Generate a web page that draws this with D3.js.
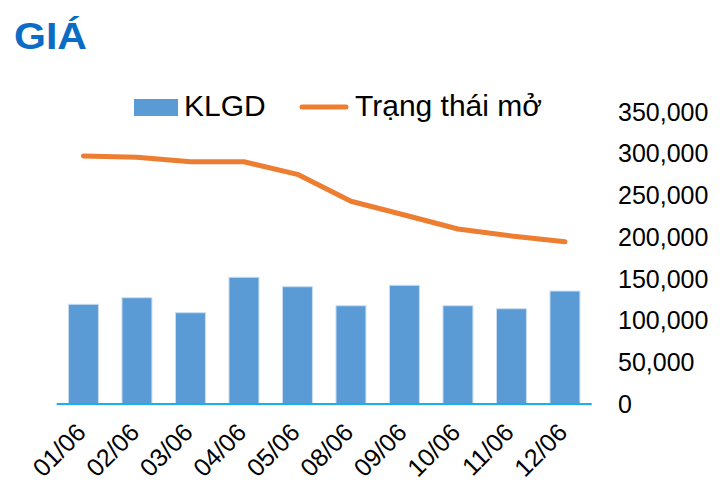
<!DOCTYPE html>
<html>
<head>
<meta charset="utf-8">
<script src="https://cdn.jsdelivr.net/npm/d3@7"></script>
<style>
  html, body { margin: 0; padding: 0; background: #fff; }
  svg { display: block; font-family: "Liberation Sans", Arial, sans-serif; }
</style>
</head>
<body>
<svg id="chart" width="720" height="483"></svg>
<script>
const categories = ["01/06","02/06","03/06","04/06","05/06","08/06","09/06","10/06","11/06","12/06"];
const klgd = [119500,127400,109400,151900,140600,117800,142300,117800,114200,135400];
const openInterest = [297300,295700,290400,290400,275300,243000,226500,209800,201400,194600];
const yTicks = [0,50000,100000,150000,200000,250000,300000,350000];
const seriesNames = ["KLGD","Trạng thái mở"];

const svg = d3.select("#chart");

const x = d3.scaleBand().domain(categories).range([56.7, 591.7]).paddingInner(0.44).paddingOuter(0.22);
const y = d3.scaleLinear().domain([0, 350000]).range([404, 112]);

// Title
svg.append("text").attr("x", 14).attr("y", 48.5)
  .attr("font-size", 36).attr("font-weight", "bold").attr("fill", "#0A6CC4")
  .attr("textLength", 73).attr("lengthAdjust", "spacingAndGlyphs")
  .text("GIÁ");

// Bars
svg.append("g").selectAll("rect").data(klgd).join("rect")
  .attr("x", (d, i) => x(categories[i]))
  .attr("y", d => y(d))
  .attr("width", x.bandwidth())
  .attr("height", d => y(0) - y(d))
  .attr("fill", "#5B9BD5")
  .attr("stroke", "#c9def2").attr("stroke-width", 1);

// Axis baseline
svg.append("line").attr("x1", 56.7).attr("x2", 591.7).attr("y1", y(0)).attr("y2", y(0))
  .attr("stroke", "#1AB0EA").attr("stroke-width", 2);

// Line
const line = d3.line()
  .x((d, i) => x(categories[i]) + x.bandwidth() / 2)
  .y(d => y(d));
svg.append("path").datum(openInterest).attr("d", line)
  .attr("fill", "none").attr("stroke", "#ED7D31").attr("stroke-width", 5)
  .attr("stroke-linecap", "round").attr("stroke-linejoin", "round");

// Right axis labels
const fmt = d3.format(",");
svg.append("g").selectAll("text").data(yTicks).join("text")
  .attr("x", 618).attr("y", d => y(d))
  .attr("dy", "0.35em")
  .attr("font-size", 25).attr("fill", "#000")
  .text(d => fmt(d));

// X labels
svg.append("g").selectAll("text").data(categories).join("text")
  .attr("transform", d => `translate(${x(d) + x.bandwidth() / 2 + 4},${434}) rotate(-45)`)
  .attr("text-anchor", "end")
  .attr("font-size", 25).attr("fill", "#000")
  .text(d => d);

// Legend
const lg = svg.append("g");
lg.append("rect").attr("x", 134).attr("y", 99).attr("width", 44).attr("height", 17).attr("fill", "#5B9BD5");
lg.append("text").attr("x", 184).attr("y", 116).attr("font-size", 30).attr("fill", "#000").text(seriesNames[0]);
lg.append("line").attr("x1", 302).attr("x2", 346).attr("y1", 107).attr("y2", 107)
  .attr("stroke", "#ED7D31").attr("stroke-width", 5).attr("stroke-linecap", "round");
lg.append("text").attr("x", 355).attr("y", 116).attr("font-size", 30).attr("fill", "#000").text(seriesNames[1]);
</script>
</body>
</html>
